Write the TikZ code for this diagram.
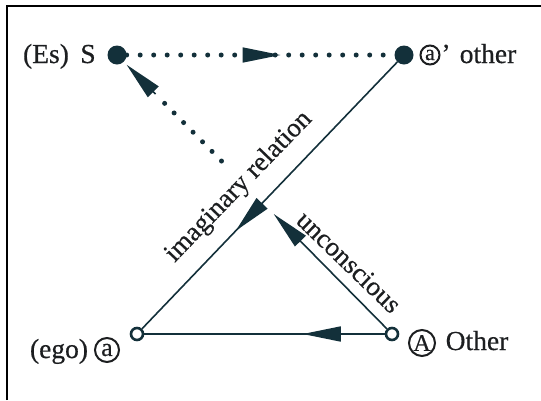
\documentclass[tikz,border=0pt]{standalone}
\usepackage{fontspec}
\setmainfont{Liberation Serif}[FakeBold=0.5]
\usetikzlibrary{arrows.meta,calc}
\definecolor{ink}{HTML}{13303A}
\definecolor{txt}{HTML}{1C1E20}
\begin{document}
\begin{tikzpicture}[x=1pt,y=-1pt,
  lbl/.style={text=txt,font=\fontsize{27.5}{30}\selectfont,inner sep=0pt,anchor=base},
  solidline/.style={draw=ink,line width=1.6pt},
  dotline/.style={draw=ink,line width=5pt,line cap=round,dash pattern=on 0pt off 13.5pt},
  headtip/.style={draw=ink,line width=1.6pt,-{Triangle[length=38pt,width=15pt]}},
  bigdot/.style={circle,fill=ink,minimum size=19pt,inner sep=0pt},
  opendot/.style={circle,draw=ink,line width=2.6pt,fill=white,minimum size=12pt,inner sep=0pt},
  circ/.style={circle,draw=txt,line width=2pt,inner sep=0pt,text=txt},
  rotlbl/.style={text=txt,font=\fontsize{27}{30}\selectfont,inner sep=0pt}
]
\path[use as bounding box] (0,0) rectangle (541,400);
% frame (top and left edges)
\draw[draw=black,line width=2.5pt] (7,400) -- (7,6) -- (541,6);

% points
\node[bigdot] (S) at (117,55) {};
\node[bigdot] (ap) at (404,55) {};
\node[opendot] (a) at (137,334) {};
\node[opendot] (A) at (392,334) {};

% connectors
\draw[dotline] (S) -- (ap);
\draw[headtip] ($(S)!0.44!(ap)$) -- ($(S)!0.57!(ap)$);

\draw[solidline] (a) -- (ap);
\draw[headtip] ($(ap)!0.53!(a)$) -- ($(ap)!0.63!(a)$);

\draw[solidline] (A) -- (a);
\draw[headtip] ($(A)!0.20!(a)$) -- ($(A)!0.35!(a)$);

\draw[solidline] (A) -- ($(A)!0.33!(S)$);
\draw[headtip] ($(A)!0.33!(S)$) -- ($(A)!0.43!(S)$);
\draw[dotline] ($(A)!0.62!(S)$) -- ($(A)!0.845!(S)$);
\draw[headtip] ($(A)!0.86!(S)$) -- ($(A)!0.965!(S)$);

% labels
\node[lbl] (Es) at (46,63) {(Es)};
\node[lbl] (Sl) at (88,63) {S};
\node[circ,minimum size=19pt,font=\fontsize{22}{24}\selectfont] (cap) at (430,55) {a};
\node[lbl] (pr) at (446,63) {’};
\node[lbl] (oth) at (488,63) {other};
\node[lbl] (ego) at (59,358) {(ego)};
\node[circ,minimum size=24pt,font=\fontsize{26}{28}\selectfont] (ca) at (107,350) {a};
\node[circ,minimum size=26pt,font=\fontsize{24}{26}\selectfont] (cA) at (422,343) {A};
\node[lbl] (Oth) at (477,350) {Other};

\node[rotlbl,rotate=46] (imag) at (239,187) {imaginary relation};
\node[rotlbl,rotate=-44] (unc) at (349,262) {unconscious};
\end{tikzpicture}
\end{document}
